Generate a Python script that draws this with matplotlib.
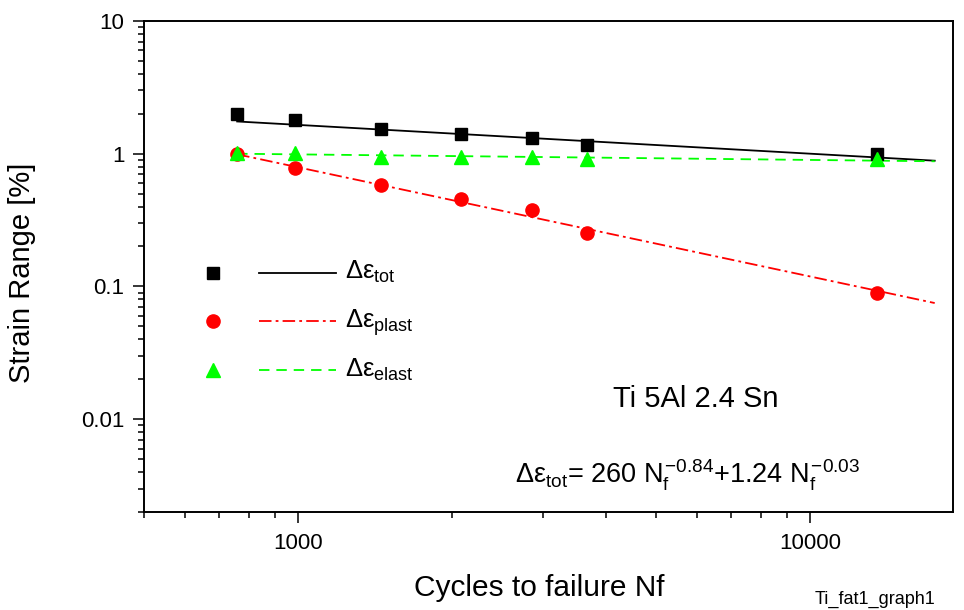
# -*- coding: utf-8 -*-
import numpy as np
import matplotlib
matplotlib.use('Agg')
import matplotlib.pyplot as plt
from matplotlib.ticker import FuncFormatter, LogLocator, NullFormatter

plt.rcParams['font.family'] = ['Liberation Sans', 'DejaVu Sans']
plt.rcParams['mathtext.fontset'] = 'custom'
plt.rcParams['mathtext.rm'] = 'Liberation Sans'
plt.rcParams['mathtext.it'] = 'Liberation Sans'
plt.rcParams['mathtext.bf'] = 'Liberation Sans:bold'
plt.rcParams['lines.scale_dashes'] = False

# measured fatigue data (cycles to failure vs strain ranges in %)
cycles = [760, 985, 1450, 2080, 2860, 3660, 13500]
eps_tot = [1.99, 1.79, 1.53, 1.41, 1.31, 1.16, 1.00]
eps_plast = [0.99, 0.78, 0.58, 0.456, 0.377, 0.252, 0.089]
eps_elast = [1.02, 1.02, 0.94, 0.94, 0.94, 0.91, 0.92]

# end points of the power-law fits (straight lines in log-log)
fit_cycles = [760, 17500]
fit_tot = [1.75, 0.886]
fit_plast = [0.99, 0.075]
fit_elast = [1.00, 0.877]

RED = '#ff0000'
GREEN = '#00ff00'
dashdot = (0, (9, 3, 2, 3))
dashed = (0, (7.5, 5))

fig = plt.figure(figsize=(9.64, 6.10), dpi=100)
ax = fig.add_axes([0.1494, 0.1607, 0.8392, 0.8049])

ax.plot(fit_cycles, fit_tot, color='k', lw=1.3, ls='-')
ax.plot(fit_cycles, fit_plast, color=RED, lw=1.3, ls=dashdot)
ax.plot(fit_cycles, fit_elast, color=GREEN, lw=1.3, ls=dashed)

ax.plot(cycles, eps_tot, ls='none', marker='s', ms=8, color='k')
ax.plot(cycles, eps_plast, ls='none', marker='o', ms=9.5, color=RED)
ax.plot(cycles, eps_elast, ls='none', marker='^', ms=9.5, color=GREEN)

ax.set_xscale('log')
ax.set_yscale('log')
ax.set_xlim(500, 19000)
ax.set_ylim(0.002, 10)

fmt = FuncFormatter(lambda v, p: '{:g}'.format(v))
ax.xaxis.set_major_formatter(fmt)
ax.yaxis.set_major_formatter(fmt)
ax.xaxis.set_minor_locator(LogLocator(base=10, subs=np.arange(2, 10)))
ax.yaxis.set_minor_locator(LogLocator(base=10, subs=np.arange(2, 10)))
ax.xaxis.set_minor_formatter(NullFormatter())
ax.yaxis.set_minor_formatter(NullFormatter())

ax.tick_params(which='both', direction='out', top=False, right=False,
               width=1.1, labelsize=16)
ax.tick_params(which='major', length=8, pad=6)
ax.tick_params(which='minor', length=4.3)
ax.tick_params(axis='x', which='major', pad=7)
for s in ax.spines.values():
    s.set_linewidth(1.4)

ax.set_xlabel('Cycles to failure Nf', fontsize=21.5, va='center')
ax.xaxis.set_label_coords(0.488, -0.155)
ax.set_ylabel('Strain Range [%]', fontsize=21, va='center')
ax.yaxis.set_label_coords(-0.151, 0.487)

# hand-placed legend: marker, line sample, label
rows = [('s', 8, 'k', '-', r'$\Delta\varepsilon_{tot}$', 0.4874),
        ('o', 9.5, RED, dashdot, r'$\Delta\varepsilon_{plast}$', 0.3880),
        ('^', 9.5, GREEN, dashed, r'$\Delta\varepsilon_{elast}$', 0.2892)]
for mk, ms, col, ls, lab, yy in rows:
    ax.plot([0.0853], [yy], marker=mk, ms=ms, color=col, ls='none',
            transform=ax.transAxes, clip_on=False)
    ax.plot([0.1422, 0.2373], [yy, yy], color=col, lw=1.3, ls=ls,
            transform=ax.transAxes)
    ax.text(0.2485, yy - 0.0135, lab, fontsize=18.5, va='baseline',
            transform=ax.transAxes)

ax.text(0.5797, 0.2138, 'Ti 5Al 2.4 Sn', fontsize=21, va='baseline',
        transform=ax.transAxes)
ax.text(0.4586, 0.057,
        r'$\Delta\varepsilon_{tot}$= 260 $N_f^{-0.84}$+1.24 $N_f^{-0.03}$',
        fontsize=19.5, va='baseline', transform=ax.transAxes)

fig.text(0.8454, 0.003, 'Ti_fat1_graph1', fontsize=13, va='bottom')

fig.savefig('out.png', dpi=100)
